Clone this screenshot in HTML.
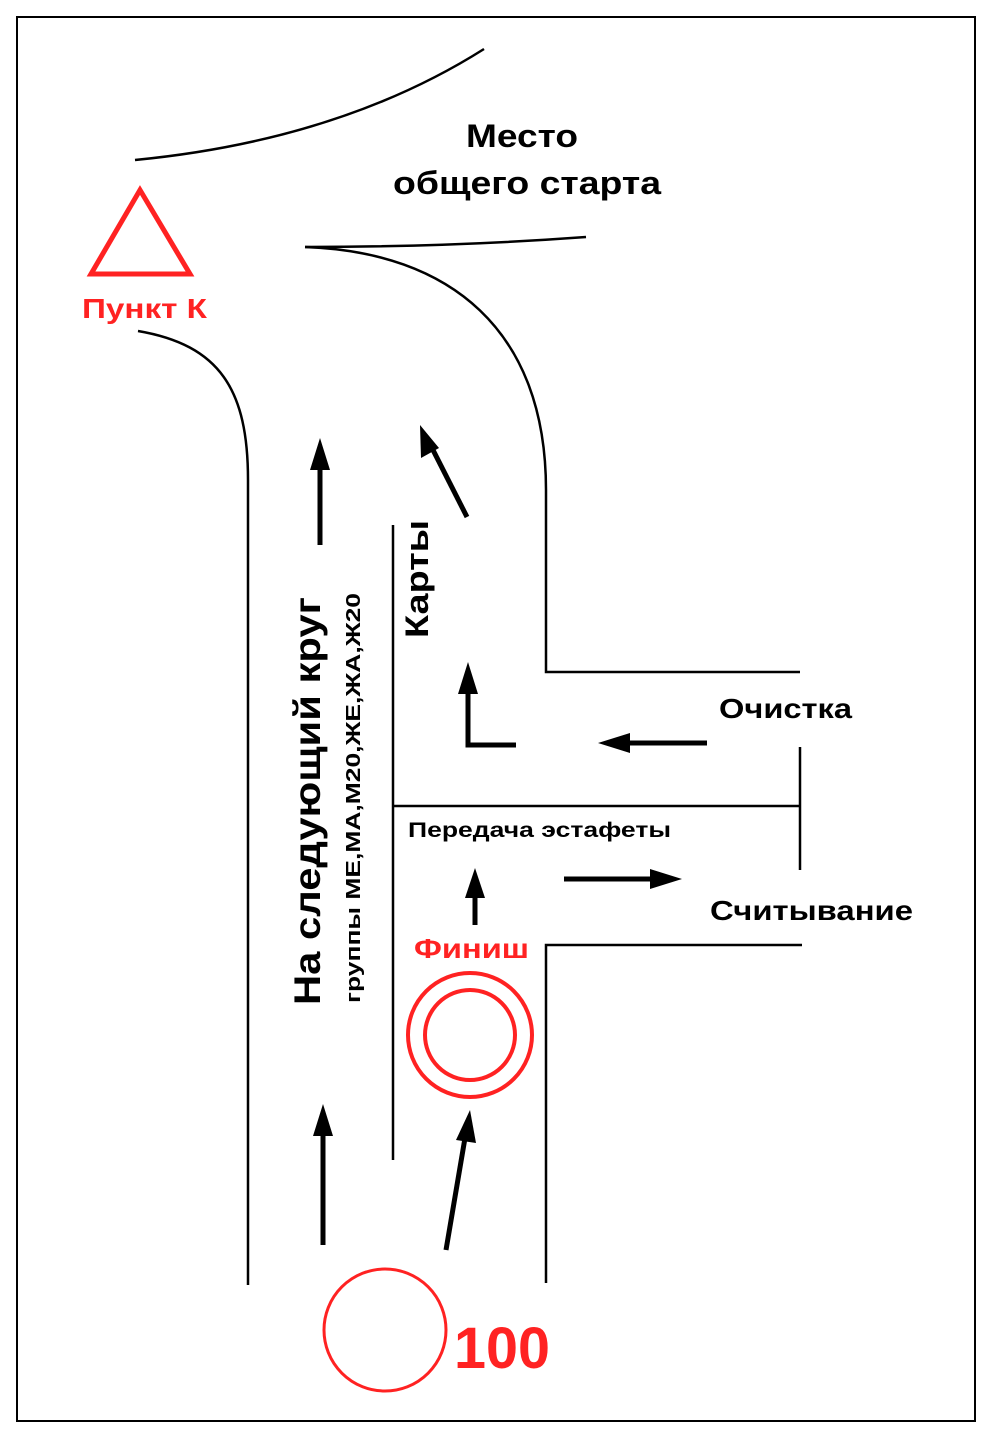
<!DOCTYPE html>
<html><head><meta charset="utf-8"><style>
html,body{margin:0;padding:0;background:#fff}
svg{display:block}
text{font-family:"Liberation Sans",Arial,sans-serif;font-weight:bold}
</style></head><body>
<svg width="1002" height="1443" viewBox="0 0 1002 1443" xmlns="http://www.w3.org/2000/svg">
<rect x="17" y="17" width="958" height="1404" fill="none" stroke="#000" stroke-width="2"/>
<g fill="none" stroke="#000" stroke-width="2.5">
<path d="M135,160 Q340,140 484,49"/>
<path d="M305,247 Q450,247 586,237"/>
<path d="M305,247 C450,252 546,330 546,490 L546,672 L800,672"/>
<path d="M138,331 C220,345 248,390 248,480 L248,1285"/>
<path d="M393,525 L393,1160"/>
<path d="M393,806 L800,806"/>
<path d="M800,747 L800,870"/>
<path d="M546,1283 L546,945 L802,945"/>
</g>
<g stroke="#000" stroke-width="5" fill="none">
<line x1="320" y1="545" x2="320" y2="465"/>
<line x1="467" y1="517" x2="432" y2="448"/>
<polyline points="516,745 468,745 468,690"/>
<line x1="707" y1="743" x2="628" y2="743"/>
<line x1="564" y1="879" x2="655" y2="879"/>
<line x1="475" y1="925" x2="475" y2="895"/>
<line x1="323" y1="1245" x2="323" y2="1132"/>
<line x1="446" y1="1250" x2="465" y2="1138"/>
</g>
<g fill="#000">
<polygon points="320,438 310,470 330,470"/>
<polygon points="420,425 421,458 439,448"/>
<polygon points="468,662 458,694 478,694"/>
<polygon points="598,743 630,733 630,753"/>
<polygon points="682,879 650,869 650,889"/>
<polygon points="475,868 465,898 485,898"/>
<polygon points="323,1104 313,1136 333,1136"/>
<polygon points="470,1110 456,1140 476,1143"/>
</g>
<polygon points="140,190 91,274 190,274" fill="none" stroke="#f22" stroke-width="5"/>
<circle cx="470" cy="1035" r="62" fill="none" stroke="#f22" stroke-width="4"/>
<circle cx="470" cy="1035" r="45" fill="none" stroke="#f22" stroke-width="4"/>
<circle cx="385" cy="1330" r="61" fill="none" stroke="#f22" stroke-width="3"/>
<text x="82" y="318" font-size="28" fill="#f22" textLength="125" lengthAdjust="spacingAndGlyphs">Пункт К</text>
<text x="454" y="1368" font-size="58" fill="#f22" textLength="96" lengthAdjust="spacingAndGlyphs">100</text>
<text x="414" y="958" font-size="28" fill="#f22" textLength="115" lengthAdjust="spacingAndGlyphs">Финиш</text>
<text x="466" y="147" font-size="32" textLength="112" lengthAdjust="spacingAndGlyphs">Место</text>
<text x="393" y="194" font-size="32" textLength="268" lengthAdjust="spacingAndGlyphs">общего старта</text>
<text x="719" y="718" font-size="28" textLength="133" lengthAdjust="spacingAndGlyphs">Очистка</text>
<text x="408" y="837" font-size="21" textLength="263" lengthAdjust="spacingAndGlyphs">Передача эстафеты</text>
<text x="710" y="920" font-size="28" textLength="203" lengthAdjust="spacingAndGlyphs">Считывание</text>
<text transform="translate(320,1005) rotate(-90)" font-size="37" textLength="408" lengthAdjust="spacingAndGlyphs">На следующий круг</text>
<text transform="translate(360,1003) rotate(-90)" font-size="20" textLength="410" lengthAdjust="spacingAndGlyphs">группы МЕ,МА,М20,ЖЕ,ЖА,Ж20</text>
<text transform="translate(428,638) rotate(-90)" font-size="32" textLength="118" lengthAdjust="spacingAndGlyphs">Карты</text>
</svg>
</body></html>
